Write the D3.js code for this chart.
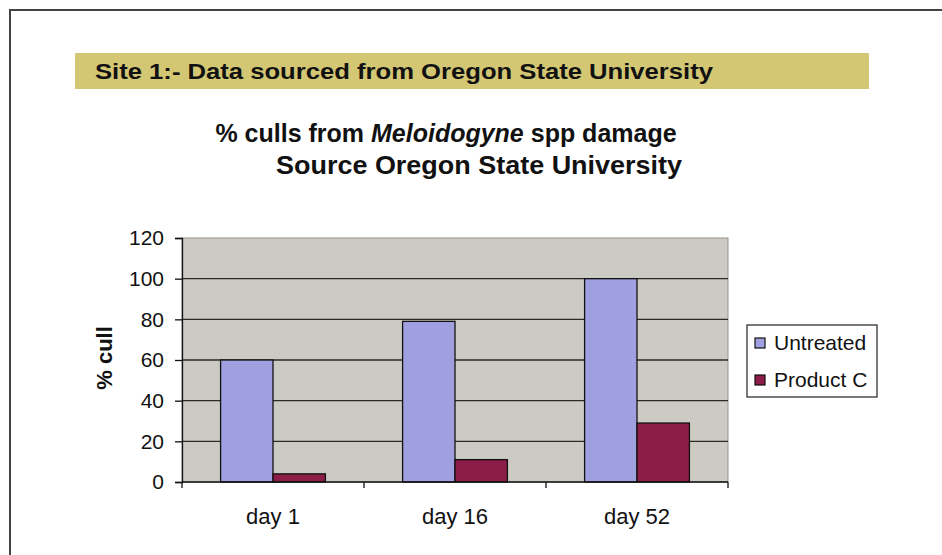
<!DOCTYPE html>
<html>
<head>
<meta charset="utf-8">
<script src="https://cdn.jsdelivr.net/npm/d3@7"></script>
<style>
  body { margin: 0; background: #fff; }
  svg { display: block; font-family: "Liberation Sans", Arial, sans-serif; }
</style>
</head>
<body>
<svg width="942" height="555"></svg>
<script>
(function() {
    // chart data
    var days = ["day 1", "day 16", "day 52"];
    var seriesNames = ["Untreated", "Product C"];
    var untreated = [60, 79, 100];
    var productC = [4, 11, 29];
    var yTicks = [0, 20, 40, 60, 80, 100, 120];
    var colours = ["#a09fe0", "#8c1d47"];

    var svg = d3.select('svg');

    // page frame (runs off the right / bottom like the scan)
    svg.append("path")
        .attr("d", "M10,560 L10,10 L950,10")
        .attr("fill", "none")
        .attr("stroke", "#444")
        .attr("stroke-width", 2);

    // site header band
    svg.append("rect")
        .attr("x", 75).attr("y", 53)
        .attr("width", 794).attr("height", 36)
        .attr("fill", "#d4c774");
    svg.append("text")
        .attr("x", 95).attr("y", 79)
        .attr("font-size", 22)
        .attr("font-weight", "bold")
        .attr("textLength", 618)
        .attr("lengthAdjust", "spacingAndGlyphs")
        .attr("fill", "#111")
        .text("Site 1:- Data sourced from Oregon State University");

    // chart title
    var t1 = svg.append("text")
        .attr("x", 446).attr("y", 142)
        .attr("text-anchor", "middle")
        .attr("font-size", 25)
        .attr("font-weight", "bold")
        .attr("fill", "#111");
    t1.append("tspan").text("% culls from ");
    t1.append("tspan").attr("font-style", "italic").text("Meloidogyne");
    t1.append("tspan").text(" spp damage");
    svg.append("text")
        .attr("x", 276).attr("y", 174)
        .attr("font-size", 25)
        .attr("font-weight", "bold")
        .attr("textLength", 406)
        .attr("lengthAdjust", "spacingAndGlyphs")
        .attr("fill", "#111")
        .text("Source Oregon State University");

    var left = 182, right = 728, top = 238, bottom = 482;

    var x0 = d3.scaleBand().domain(days).range([left, right]);
    var bw = x0.bandwidth();
    var x1 = d3.scaleBand().domain(seriesNames).range([bw * 0.212, bw * 0.788]);
    var y = d3.scaleLinear().domain([0, 120]).range([bottom, top]);

    // plot area
    svg.append("rect")
        .attr("x", left).attr("y", top)
        .attr("width", right - left).attr("height", bottom - top)
        .attr("fill", "#cbcbc4")
        .attr("stroke", "#9a8f8f")
        .attr("stroke-width", 1);

    // gridlines
    svg.append("g")
        .selectAll("line")
        .data(yTicks.filter(function(d) { return d > 0 && d < 120; }))
        .join("line")
        .attr("x1", left).attr("x2", right)
        .attr("y1", function(d) { return y(d); })
        .attr("y2", function(d) { return y(d); })
        .attr("stroke", "#2a2a22")
        .attr("stroke-width", 1.3);

    // bars
    var rows = days.map(function(d, i) {
        return { day: d, values: [untreated[i], productC[i]] };
    });
    svg.append("g")
        .selectAll("g")
        .data(rows)
        .join("g")
        .attr("transform", function(d) { return "translate(" + x0(d.day) + ",0)"; })
        .selectAll("rect")
        .data(function(d) { return d.values.map(function(v, j) { return { key: seriesNames[j], v: v, j: j }; }); })
        .join("rect")
        .attr("x", function(d) { return x1(d.key); })
        .attr("y", function(d) { return y(d.v); })
        .attr("width", x1.bandwidth())
        .attr("height", function(d) { return bottom - y(d.v); })
        .attr("fill", function(d) { return colours[d.j]; })
        .attr("stroke", "#111")
        .attr("stroke-width", 1.3);

    // y axis
    var yAxis = svg.append("g")
        .attr("transform", "translate(" + left + ",0)")
        .call(d3.axisLeft(y).tickValues(yTicks).tickSize(7).tickPadding(11));
    yAxis.select(".domain").attr("stroke", "#111").attr("stroke-width", 1.3);
    yAxis.selectAll("line").attr("stroke", "#111").attr("stroke-width", 1.3);
    yAxis.selectAll("text")
        .attr("font-size", 21)
        .attr("font-family", "Liberation Sans, Arial, sans-serif")
        .attr("fill", "#111");

    // x axis: ticks sit on category boundaries
    var xAxis = svg.append("g")
        .attr("transform", "translate(0," + bottom + ")");
    xAxis.append("line")
        .attr("x1", left).attr("x2", right)
        .attr("stroke", "#111").attr("stroke-width", 1.3);
    xAxis.selectAll("line.tk")
        .data(days.concat(["end"]))
        .join("line")
        .attr("class", "tk")
        .attr("x1", function(d, i) { return i < days.length ? x0(d) : right; })
        .attr("x2", function(d, i) { return i < days.length ? x0(d) : right; })
        .attr("y1", 0).attr("y2", 6)
        .attr("stroke", "#111").attr("stroke-width", 1.3);
    xAxis.selectAll("text")
        .data(days)
        .join("text")
        .attr("x", function(d) { return x0(d) + bw / 2; })
        .attr("y", 42)
        .attr("text-anchor", "middle")
        .attr("font-size", 22)
        .attr("fill", "#111")
        .text(function(d) { return d; });

    // y axis title
    svg.append("text")
        .attr("transform", "translate(112,358) rotate(-90)")
        .attr("text-anchor", "middle")
        .attr("font-size", 22)
        .attr("font-weight", "bold")
        .attr("fill", "#111")
        .text("% cull");

    // legend
    var legend = svg.append("g").attr("transform", "translate(747,325)");
    legend.append("rect")
        .attr("width", 130).attr("height", 72)
        .attr("fill", "#fff")
        .attr("stroke", "#222").attr("stroke-width", 1.2);
    var items = legend.selectAll("g")
        .data(seriesNames)
        .join("g")
        .attr("transform", function(d, i) { return "translate(0," + (18 + i * 37) + ")"; });
    items.append("rect")
        .attr("x", 8).attr("y", -5)
        .attr("width", 10).attr("height", 10)
        .attr("fill", function(d, i) { return colours[i]; })
        .attr("stroke", "#111").attr("stroke-width", 1.2);
    items.append("text")
        .attr("x", 27).attr("y", 7)
        .attr("font-size", 21)
        .attr("fill", "#111")
        .text(function(d) { return d; });
})();
</script>
</body>
</html>
